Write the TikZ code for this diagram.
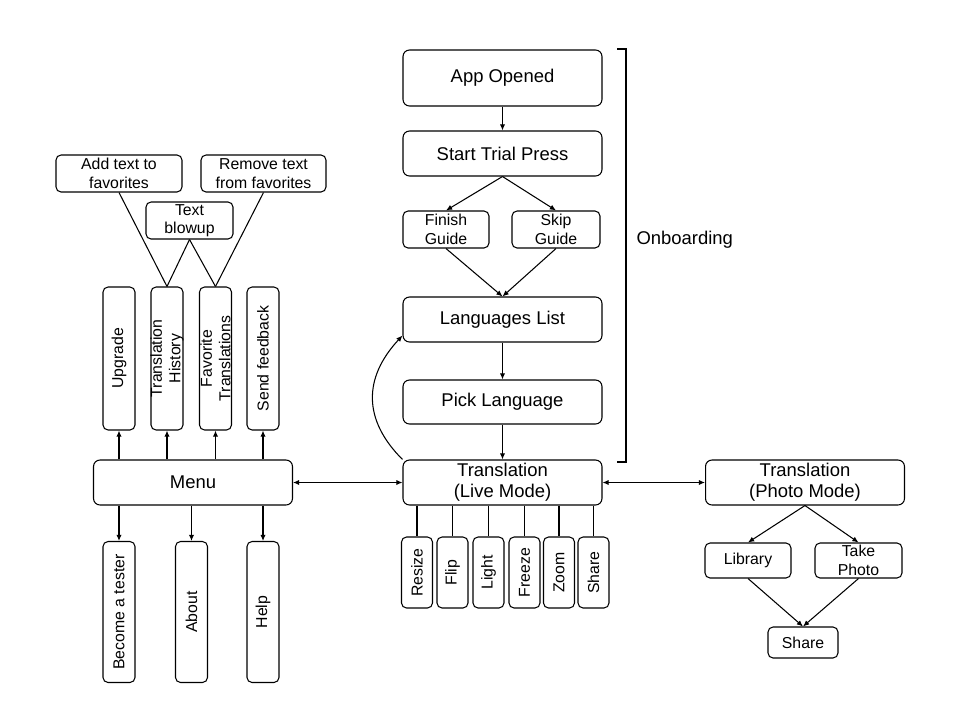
\documentclass[tikz,border=0pt]{standalone}
\usepackage{fontspec}
\setmainfont{Liberation Sans}
\usetikzlibrary{arrows.meta,positioning}

\begin{document}
\begin{tikzpicture}[x=0.02cm, y=-0.02cm, line width=0.6pt,
	box/.style={draw, rounded corners=0.13cm, align=center, inner sep=0pt, font=\fontsize{10.5}{12}\selectfont},
	big/.style={box, minimum width=3.98cm, minimum height=0.9cm},
	small/.style={box, rounded corners=0.1cm, font=\fontsize{9}{10.5}\selectfont, minimum height=0.74cm},
	vbox/.style={draw, rounded corners=0.1cm, minimum width=0.64cm, inner sep=0pt},
	vtext/.style={rotate=90, align=center, font=\fontsize{9}{10.5}\selectfont},
	arr/.style={-{Latex[length=3.5pt,width=3pt]}},
	both/.style={{Latex[length=3.5pt,width=3pt]}-{Latex[length=3.5pt,width=3pt]}}]
	\useasboundingbox (0,0) rectangle (960,720);
	% onboarding column
	\node[big, minimum height=1.12cm] (opened) at (502.5,78) {App Opened};
	\node[big] (trial) at (502.5,153.5) {Start Trial Press};
	\node[small, minimum width=1.72cm] (finish) at (446,229.5) {Finish\\Guide};
	\node[small, minimum width=1.76cm] (skip) at (556,229.5) {Skip\\Guide};
	\node[big] (langs) at (502.5,319.5) {Languages List};
	\node[big, minimum height=0.88cm] (pick) at (502.5,402) {Pick Language};
	\node[big] (live) at (502.5,482.5) {Translation\\(Live Mode)};
	\draw [line width=1.1pt] (617,49) -- (626,49) -- (626,462) -- (617,462);
	\node[font=\fontsize{10.5}{12}\selectfont, anchor=west, inner sep=0pt] (onboarding) at (636,240) {Onboarding};
	% menu side
	\node[big] (menu) at (193,482.5) {Menu};
	\node[small, minimum width=2.52cm] (addfav) at (119,173.5) {Add text to\\favorites};
	\node[small, minimum width=2.5cm] (remfav) at (263.5,173.5) {Remove text\\from favorites};
	\node[small, minimum width=1.74cm] (blowup) at (189.5,220.5) {Text\\blowup};
	\foreach \name/\x/\txt in {upgrade/119/Upgrade, history/167/{Translation\\History},
		favtrans/215.5/{Favorite\\Translations}, feedback/263/Send feedback} {
		\node[vbox, minimum height=2.86cm] (\name) at (\x,358.5) {};
		\node[vtext] at (\name) {\txt};
		\draw[arr] (menu.north -| \name) -- (\name.south);
	}
	\foreach \name/\x/\txt in {tester/119/Become a tester, about/191.5/About, help/263/Help} {
		\node[vbox, minimum height=2.82cm] (\name) at (\x,612) {};
		\node[vtext] at (\name) {\txt};
		\draw[arr] (menu.south -| \name) -- (\name.north);
	}
	% live mode tools
	\foreach \name/\x/\txt in {resize/417/Resize, flip/452.5/Flip, light/488.5/Light,
		freeze/524.5/Freeze, zoom/559/Zoom, liveshare/593.5/Share} {
		\node[vbox, minimum height=1.42cm, minimum width=0.62cm] (\name) at (\x,572.5) {};
		\node[vtext] at (\name) {\txt};
		\draw (live.south -| \name) -- (\name.north);
	}
	% photo mode
	\node[big] (photo) at (805,482.5) {Translation\\(Photo Mode)};
	\node[small, minimum width=1.72cm, minimum height=0.7cm] (library) at (748,560.5) {Library};
	\node[small, minimum width=1.74cm, minimum height=0.7cm] (takephoto) at (858.5,560.5) {Take\\Photo};
	\node[small, minimum width=1.4cm, minimum height=0.62cm] (photoshare) at (803,642.5) {Share};

	\draw[arr] (opened) -- (trial);
	\draw[arr] (trial.south) -- (finish.north);
	\draw[arr] (trial.south) -- (skip.north);
	\draw[arr] (finish.south) -- (langs.north);
	\draw[arr] (skip.south) -- (langs.north);
	\draw[arr] (langs) -- (pick);
	\draw[arr] (pick) -- (live);
	\draw[arr] (live.north west) .. controls (363,420) and (363,378) .. ([yshift=0.14cm]langs.south west);
	\draw[both] (menu) -- (live);
	\draw[both] (live) -- (photo);
	\draw (addfav.south) -- (history.north);
	\draw (blowup.south) -- (history.north);
	\draw (blowup.south) -- (favtrans.north);
	\draw (remfav.south) -- (favtrans.north);
	\draw[arr] (photo.south) -- (library.north);
	\draw[arr] (photo.south) -- (takephoto.north);
	\draw[arr] (library.south) -- (photoshare.north);
	\draw[arr] (takephoto.south) -- (photoshare.north);
\end{tikzpicture}
\end{document}
